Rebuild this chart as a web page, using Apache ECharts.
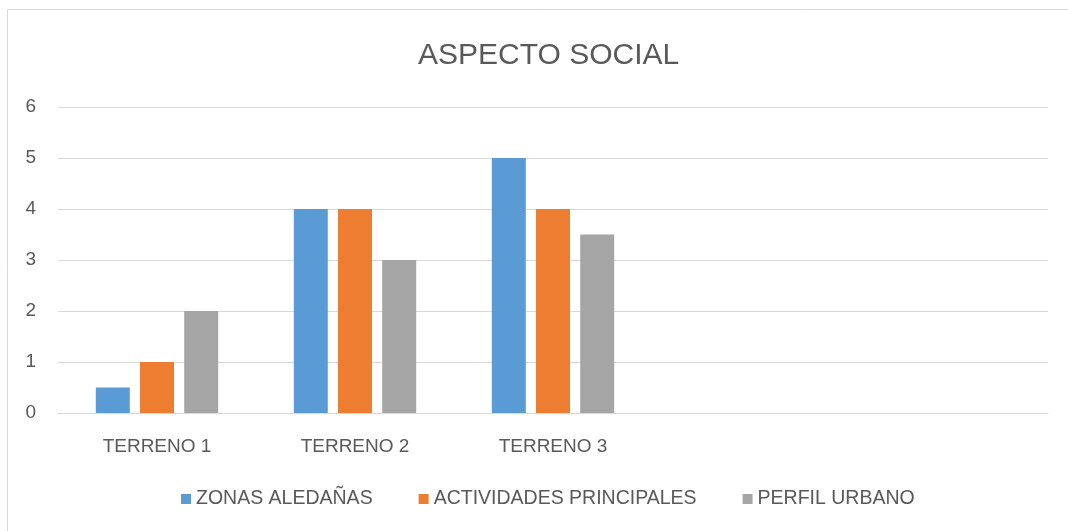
<!DOCTYPE html>
<html>
<head>
<meta charset="utf-8">
<script src="https://cdn.jsdelivr.net/npm/echarts@6/dist/echarts.min.js"></script>
<style>
  html, body { margin: 0; padding: 0; background: #fff; }
  #chart { width: 1068px; height: 531px; }
</style>
</head>
<body>
<div id="chart"></div>
<script>
// Categories (two trailing empty slots keep the axis width)
const categories = ['TERRENO 1', 'TERRENO 2', 'TERRENO 3', '', ''];
const zonasAledanas = [0.5, 4, 5];
const actividadesPrincipales = [1, 4, 4];
const perfilUrbano = [2, 3, 3.5];
const yTicks = [0, 1, 2, 3, 4, 5, 6];

const FONT = '"Liberation Sans", Arial, sans-serif';
const TEXT = '#595959';

const chart = echarts.init(document.getElementById('chart'), null, { renderer: 'canvas' });

chart.setOption({
  animation: false,
  backgroundColor: '#fff',
  graphic: [{
    type: 'rect',
    shape: { x: 7.5, y: 9.5, width: 1080, height: 540 },
    style: { fill: 'none', stroke: '#d9d9d9', lineWidth: 1 },
    silent: true
  }],
  title: {
    text: 'ASPECTO SOCIAL',
    left: 413,
    top: 36,
    textStyle: { fontFamily: FONT, fontSize: 30, fontWeight: 'normal', color: TEXT }
  },
  legend: {
    bottom: 17,
    left: 176,
    itemWidth: 10,
    itemHeight: 10,
    itemGap: 46,
    icon: 'rect',
    textStyle: { fontFamily: FONT, fontSize: 19.5, color: TEXT }
  },
  grid: { left: 58, right: 20, top: 107, bottom: 118 },
  xAxis: {
    type: 'category',
    data: categories,
    axisLine: { lineStyle: { color: '#d9d9d9' } },
    axisTick: { show: false },
    axisLabel: { fontFamily: FONT, fontSize: 19, color: TEXT, margin: 24 }
  },
  yAxis: {
    type: 'value',
    min: yTicks[0],
    max: yTicks[yTicks.length - 1],
    interval: 1,
    axisLine: { show: false },
    axisTick: { show: false },
    splitLine: { lineStyle: { color: '#d9d9d9' } },
    axisLabel: { fontFamily: FONT, fontSize: 19, color: TEXT, margin: 22 }
  },
  series: [
    { name: 'ZONAS ALEDAÑAS', type: 'bar', data: zonasAledanas, barWidth: 34, barGap: '30%', itemStyle: { color: '#5B9BD5' } },
    { name: 'ACTIVIDADES PRINCIPALES', type: 'bar', data: actividadesPrincipales, barWidth: 34, barGap: '30%', itemStyle: { color: '#ED7D31' } },
    { name: 'PERFIL URBANO', type: 'bar', data: perfilUrbano, barWidth: 34, barGap: '30%', itemStyle: { color: '#A5A5A5' } }
  ]
});
</script>
</body>
</html>
